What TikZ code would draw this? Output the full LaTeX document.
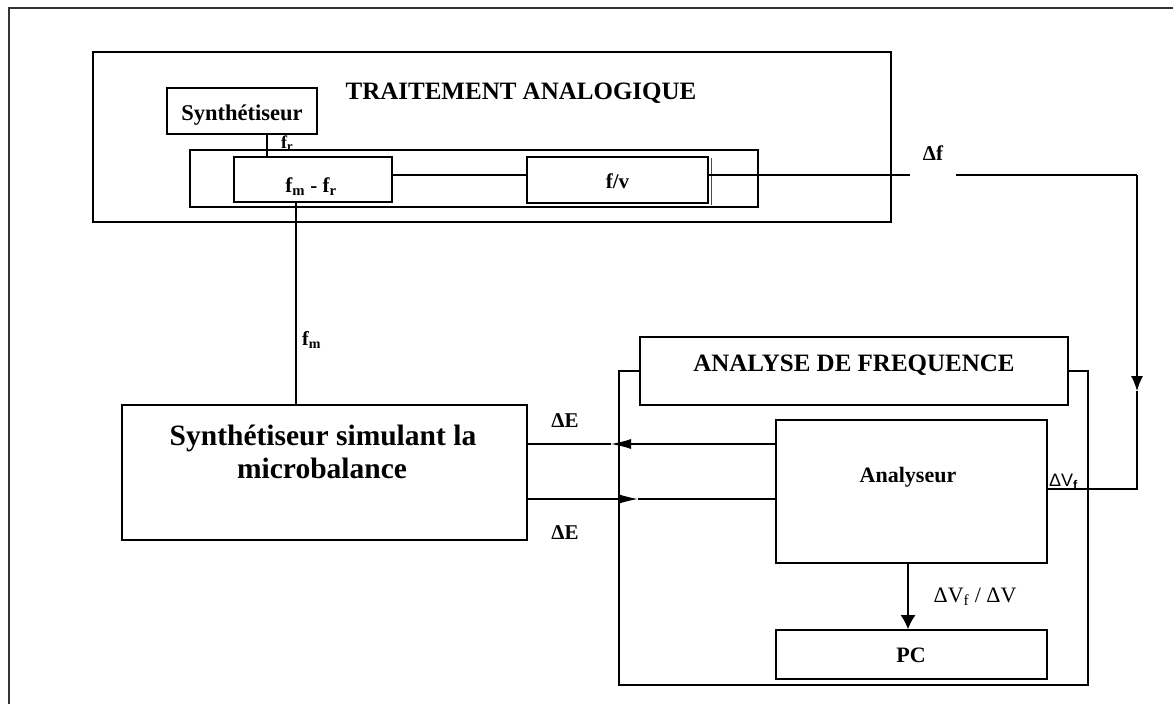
\documentclass[tikz,border=0pt]{standalone}
\usepackage{fontspec}
\setmainfont{Liberation Serif}
\newfontfamily\sansf{Liberation Sans}
\usetikzlibrary{arrows.meta}
\tikzset{
  box/.style={draw, line width=1.8pt, fill=white, inner sep=0pt},
  framebox/.style={draw, line width=1.5pt, inner sep=0pt},
  wire/.style={line width=1.2pt},
  bf/.style={font=\bfseries\fontsize{#1}{#1}\selectfont, inner sep=0pt},
  rm/.style={font=\fontsize{#1}{#1}\selectfont, inner sep=0pt},
  tipE/.style={-{Latex[length=20pt,width=10pt]}},
}
\begin{document}
\begin{tikzpicture}[x=1pt,y=-1pt]
\useasboundingbox (0,0) rectangle (1173,704);
% page frame (top and left only visible)
\coordinate (pgTR) at (1173,8);
\coordinate (pgTL) at (9,8);
\coordinate (pgBL) at (9,704);
\draw[line width=1.8pt, black!80] (pgTR) -- (pgTL) -- (pgBL);

% TRAITEMENT ANALOGIQUE block
\node[framebox, minimum width=798pt, minimum height=170pt] (trait) at (492,137) {};
\node[framebox, line width=1.3pt, minimum width=568pt, minimum height=57pt] (inner) at (474,178.5) {};
\node[bf=25, anchor=base] (traitlbl) at (521,99) {TRAITEMENT ANALOGIQUE};

\node[box, minimum width=150pt, minimum height=46pt] (synth) at (242,111) {};
\node[bf=22.5, anchor=base] (synthlbl) at (242,120) {Synthétiseur};
\node[box, minimum width=158pt, minimum height=45pt] (fmfr) at (313,179.5) {};
\node[bf=21, anchor=base] (fmfrlbl) at (311,192) {f\textsubscript{m} - f\textsubscript{r}};
\node[box, minimum width=181pt, minimum height=46pt] (fv) at (617.5,180) {};
\draw[line width=1pt, black!70] ([xshift=2.5pt,yshift=-2pt]fv.north east) -- ([xshift=2.5pt,yshift=-1pt]fv.south east);
\node[bf=21, anchor=base] (fvlbl) at (617.5,188) {f/v};
\node[bf=18, anchor=base west] (frlbl) at (281,148) {f\textsubscript{r}};

% Synthetiseur simulant la microbalance
\node[box, minimum width=405pt, minimum height=135pt] (big) at (324.5,472.5) {};
\node[bf=29.5, anchor=base] (biglbl1) at (323,445) {Synthétiseur simulant la};
\node[bf=29.5, anchor=base] (biglbl2) at (322,478) {microbalance};

% ANALYSE DE FREQUENCE block
\node[box, minimum width=428pt, minimum height=68pt] (anatitle) at (854,371) {};
\draw[line width=1.5pt] (anatitle.west) -- ++(-20,0) -- ++(0,314) -- ++(469,0) -- ++(0,-314) -- (anatitle.east);
\node[bf=25, anchor=base] (anatitlelbl) at (854,371) {ANALYSE DE FREQUENCE};
\node[box, minimum width=271pt, minimum height=143pt] (ana) at (911.5,491.5) {};
\node[bf=22, anchor=base] (analbl) at (908,482) {Analyseur};
\node[box, minimum width=271pt, minimum height=49pt] (pc) at (911.5,654.5) {};
\node[bf=22, anchor=base] (pclbl) at (911,662) {PC};

% connectors
\draw[wire] ([xshift=25pt]synth.south) -- ([xshift=25pt]synth.south |- fmfr.north);
\draw[wire] ([xshift=-17pt]fmfr.south) -- ([xshift=-17pt]fmfr.south |- big.north);
\node[bf=20, anchor=base west] (fmlbl) at (302,345) {f\textsubscript{m}};
\draw[wire] ([yshift=4.5pt]fmfr.east) -- ([yshift=4.5pt]fmfr.east -| fv.west);

\coordinate (c1) at (1137,175);
\coordinate (tipR) at (1137,391);
\coordinate (c2) at (1137,489);
\draw[wire] ([yshift=5pt]fv.east) -- (c1);
\draw[wire, -{Latex[length=15pt,width=12pt]}] (c1) -- (tipR);
\draw[wire] (tipR) -- (c2) -- (c2 -| ana.east);
\node[bf=21, anchor=base, fill=white, text height=18pt, text depth=16pt, minimum width=46pt] (dflbl) at (933,160) {Δf};
\node[anchor=base west, inner sep=0pt, font=\sansf\fontsize{18}{18}\selectfont] (dvflbl) at (1049,486) {ΔV\textsubscript{\bfseries f}};

\coordinate (tipU) at (611,444);
\coordinate (tipL) at (638,499);
\draw[wire, tipE] ([yshift=47.5pt]ana.west) -- (tipU);
\draw[wire] (tipU) -- (tipU -| big.east);
\draw[wire, tipE] ([yshift=-26.5pt]big.east) -- (tipL);
\draw[wire] (tipL) -- (tipL -| ana.west);
\node[bf=21, anchor=base] (de1) at (565,427) {ΔE};
\node[bf=21, anchor=base] (de2) at (565,539) {ΔE};

\draw[wire, -{Latex[length=14pt,width=15pt]}] ([xshift=-3.5pt]ana.south) -- ([xshift=-3.5pt]pc.north);
\node[rm=22, anchor=base] (ratiolbl) at (975,602) {ΔV\textsubscript{f} / ΔV};
\end{tikzpicture}
\end{document}
